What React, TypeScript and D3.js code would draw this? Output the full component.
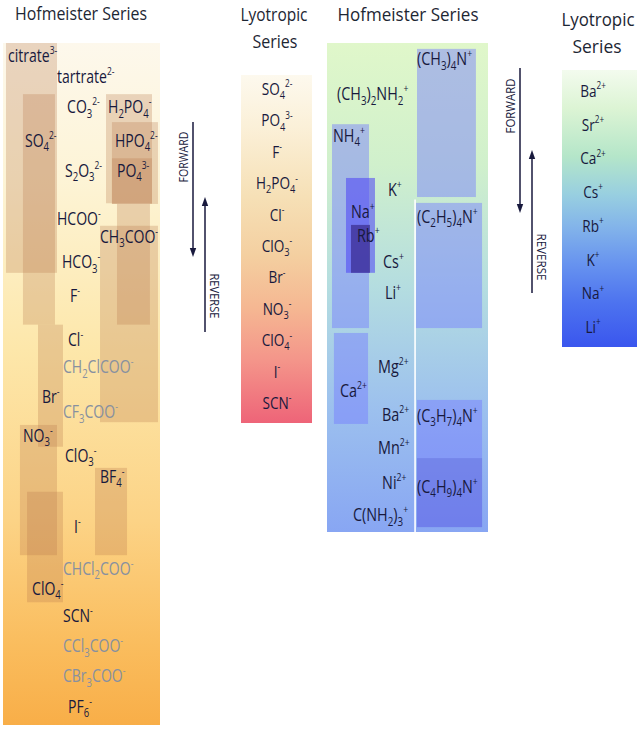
import React from "react";
import * as d3 from "d3";

// ---------- DATA ----------
// Hofmeister anion series: rank = position along the series (0 top .. 100 bottom), lane = horizontal lane (0..100)
const hofAnions = [
  { ion: "citrate^{3-}", rank: 2.8, lane: 3.2, kind: "main" },
  { ion: "tartrate^{2-}", rank: 5.9, lane: 34.4, kind: "main" },
  { ion: "CO_{3}^{2-}", rank: 10.3, lane: 40.8, kind: "main" },
  { ion: "H_{2}PO_{4}^{-}", rank: 10.3, lane: 66.9, kind: "main" },
  { ion: "SO_{4}^{2-}", rank: 15.2, lane: 14.0, kind: "main" },
  { ion: "HPO_{4}^{2-}", rank: 15.2, lane: 71.3, kind: "main" },
  { ion: "S_{2}O_{3}^{2-}", rank: 19.6, lane: 39.5, kind: "main" },
  { ion: "PO_{4}^{3-}", rank: 19.6, lane: 72.6, kind: "main" },
  { ion: "HCOO^{-}", rank: 26.7, lane: 34.4, kind: "main" },
  { ion: "CH_{3}COO^{-}", rank: 29.3, lane: 61.8, kind: "main" },
  { ion: "HCO_{3}^{-}", rank: 33.0, lane: 37.6, kind: "main" },
  { ion: "F^{-}", rank: 38.0, lane: 42.7, kind: "main" },
  { ion: "Cl^{-}", rank: 44.4, lane: 41.4, kind: "main" },
  { ion: "CH_{2}ClCOO^{-}", rank: 48.4, lane: 38.2, kind: "halo" },
  { ion: "Br^{-}", rank: 52.8, lane: 24.8, kind: "main" },
  { ion: "CF_{3}COO^{-}", rank: 55.0, lane: 38.2, kind: "halo" },
  { ion: "NO_{3}^{-}", rank: 58.5, lane: 12.7, kind: "main" },
  { ion: "ClO_{3}^{-}", rank: 61.4, lane: 39.5, kind: "main" },
  { ion: "BF_{4}^{-}", rank: 64.5, lane: 61.8, kind: "main" },
  { ion: "I^{-}", rank: 71.8, lane: 45.2, kind: "main" },
  { ion: "CHCl_{2}COO^{-}", rank: 78.0, lane: 38.2, kind: "halo" },
  { ion: "ClO_{4}^{-}", rank: 80.9, lane: 18.5, kind: "main" },
  { ion: "SCN^{-}", rank: 84.9, lane: 38.2, kind: "main" },
  { ion: "CCl_{3}COO^{-}", rank: 89.3, lane: 38.2, kind: "halo" },
  { ion: "CBr_{3}COO^{-}", rank: 93.7, lane: 38.2, kind: "halo" },
  { ion: "PF_{6}^{-}", rank: 98.2, lane: 41.4, kind: "main" },
];

// ranges of variable placement of anions (lane0, lane1, rank0, rank1)
const anionRanges = [
  { ion: "citrate", lane0: 1.9, lane1: 34.4, rank0: 0, rank1: 33.7 },
  { ion: "SO4", lane0: 12.7, lane1: 33.1, rank0: 7.5, rank1: 41.3 },
  { ion: "Br", lane0: 22.3, lane1: 38.2, rank0: 41.3, rank1: 59.2 },
  { ion: "NO3", lane0: 10.8, lane1: 34.4, rank0: 56.0, rank1: 75.1 },
  { ion: "ClO4", lane0: 15.3, lane1: 38.2, rank0: 65.8, rank1: 82.0 },
  { ion: "H2PO4", lane0: 65.6, lane1: 94.9, rank0: 7.5, rank1: 23.5 },
  { ion: "HPO4", lane0: 69.4, lane1: 98.7, rank0: 11.6, rank1: 23.6 },
  { ion: "PO4", lane0: 69.4, lane1: 94.9, rank0: 16.9, rank1: 23.6 },
  { ion: "PO4b", lane0: 72.6, lane1: 93.6, rank0: 23.6, rank1: 41.3 },
  { ion: "CH3COO", lane0: 61.8, lane1: 98.7, rank0: 26.8, rank1: 55.6 },
  { ion: "BF4", lane0: 58.6, lane1: 79.0, rank0: 62.3, rank1: 75.1 },
];

// Hofmeister cation series
const hofCations = [
  { ion: "(CH_{3})_{4}N^{+}", rank: 4.5, lane: 55.9 },
  { ion: "(CH_{3})_{2}NH_{2}^{+}", rank: 11.7, lane: 6.2 },
  { ion: "NH_{4}^{+}", rank: 20.2, lane: 3.7 },
  { ion: "K^{+}", rank: 31.3, lane: 37.9 },
  { ion: "Na^{+}", rank: 35.8, lane: 14.9 },
  { ion: "(C_{2}H_{5})_{4}N^{+}", rank: 36.8, lane: 55.9 },
  { ion: "Rb^{+}", rank: 40.7, lane: 18.6 },
  { ion: "Cs^{+}", rank: 46.0, lane: 34.8 },
  { ion: "Li^{+}", rank: 52.4, lane: 36.0 },
  { ion: "Mg^{2+}", rank: 67.5, lane: 31.7 },
  { ion: "Ca^{2+}", rank: 72.4, lane: 8.1 },
  { ion: "Ba^{2+}", rank: 77.3, lane: 34.2 },
  { ion: "(C_{3}H_{7})_{4}N^{+}", rank: 77.5, lane: 55.9 },
  { ion: "Mn^{2+}", rank: 84.0, lane: 31.7 },
  { ion: "Ni^{2+}", rank: 91.2, lane: 34.2 },
  { ion: "(C_{4}H_{9})_{4}N^{+}", rank: 92.0, lane: 55.9 },
  { ion: "C(NH_{2})_{3}^{+}", rank: 97.8, lane: 16.1 },
];

const cationRanges = [
  { ion: "NMe4", lane0: 55.9, lane1: 92.5, rank0: 1.2, rank1: 31.5, tone: "base" },
  { ion: "NEt4", lane0: 55.3, lane1: 96.3, rank0: 32.7, rank1: 58.3, tone: "base" },
  { ion: "NPr4", lane0: 55.9, lane1: 96.3, rank0: 73.0, rank1: 99.0, tone: "base" },
  { ion: "NBu4", lane0: 55.9, lane1: 96.3, rank0: 84.9, rank1: 99.0, tone: "deep" },
  { ion: "NH4", lane0: 3.1, lane1: 26.1, rank0: 16.6, rank1: 58.3, tone: "base" },
  { ion: "Na", lane0: 11.8, lane1: 29.8, rank0: 27.6, rank1: 47.0, tone: "vivid" },
  { ion: "Rb", lane0: 14.9, lane1: 26.7, rank0: 37.2, rank1: 47.0, tone: "dark" },
  { ion: "Ca", lane0: 4.3, lane1: 25.5, rank0: 59.3, rank1: 77.9, tone: "base" },
];

// Lyotropic series
const lyoAnions = ["SO_{4}^{2-}", "PO_{4}^{3-}", "F^{-}", "H_{2}PO_{4}^{-}", "Cl^{-}", "ClO_{3}^{-}", "Br^{-}", "NO_{3}^{-}", "ClO_{4}^{-}", "I^{-}", "SCN^{-}"];
const lyoCations = ["Ba^{2+}", "Sr^{2+}", "Ca^{2+}", "Cs^{+}", "Rb^{+}", "K^{+}", "Na^{+}", "Li^{+}"];

const titles = ["Hofmeister Series", "Lyotropic", "Series"];
const directions = ["FORWARD", "REVERSE"];

// ---------- RENDER ----------
const FONT = "'Open Sans', 'Noto Sans', sans-serif";
const INK = "#18193d";
const HALO = "#8790a0";
const TITLE = "#1d2633";

function Chem({ text, x, y, size, fill, anchor = "start", sx = 0.8 }) {
  const parts = text.split(/(_\{[^}]*\}|\^\{[^}]*\})/).filter(Boolean);
  let offset = 0;
  const spans = parts.map((p, i) => {
    let content = p;
    let fs = size;
    let target = 0;
    if (p.startsWith("_{")) {
      content = p.slice(2, -1);
      fs = size * 0.68;
      target = size * 0.25;
    } else if (p.startsWith("^{")) {
      content = p.slice(2, -1);
      fs = size * 0.6;
      target = -size * 0.45;
    }
    const dy = target - offset;
    offset = target;
    return (
      <tspan key={i} fontSize={fs} dy={dy}>
        {content}
      </tspan>
    );
  });
  return (
    <text
      transform={`translate(${x},${y}) scale(${sx},1)`}
      textAnchor={anchor}
      fill={fill}
      fontSize={size}
      fontWeight={500}
      fontFamily={FONT}
    >
      {spans}
    </text>
  );
}

function Arrow({ x, from, to }) {
  const dir = to > from ? 1 : -1;
  const headLen = 9;
  const headW = 3.2;
  return (
    <g>
      <line x1={x} x2={x} y1={from} y2={to - dir * headLen} stroke={INK} strokeWidth={1.5} />
      <path d={`M${x - headW},${to - dir * headLen} L${x + headW},${to - dir * headLen} L${x},${to} Z`} fill={INK} />
    </g>
  );
}

function VText({ text, x, y, rot, len }) {
  return (
    <text
      transform={`translate(${x},${y}) rotate(${rot})`}
      textAnchor="middle"
      fontSize={13.5}
      fontFamily={FONT}
      fill={INK}
      textLength={len}
      lengthAdjust="spacingAndGlyphs"
    >
      {text}
    </text>
  );
}

export default function App() {
  const xL = d3.scaleLinear().domain([0, 100]).range([3, 160]);
  const yL = d3.scaleLinear().domain([0, 100]).range([43, 725]);
  const xR = d3.scaleLinear().domain([0, 100]).range([327, 488]);
  const yR = d3.scaleLinear().domain([0, 100]).range([43, 532]);
  const yLyoA = d3.scalePoint().domain(lyoAnions).range([95, 409]);
  const yLyoC = d3.scalePoint().domain(lyoCations).range([97, 333]);

  const cationTone = {
    base: { fill: "#7479ff", op: 0.46 },
    vivid: { fill: "#4b3ff5", op: 0.55 },
    dark: { fill: "#2a1670", op: 0.55 },
    deep: { fill: "#3a3cc0", op: 0.22 },
  };

  return (
    <svg width={640} height={730} style={{ position: "absolute", left: 0, top: 0, background: "#fff" }}>
      <defs>
        <linearGradient id="gAnion" x1="0" y1="0" x2="0" y2="1">
          <stop offset="0" stopColor="#fdf8ec" />
          <stop offset="0.2" stopColor="#fdf4d6" />
          <stop offset="0.45" stopColor="#fde7aa" />
          <stop offset="0.7" stopColor="#fcd386" />
          <stop offset="0.88" stopColor="#fabd5e" />
          <stop offset="1" stopColor="#f8ae48" />
        </linearGradient>
        <linearGradient id="gCation" x1="0" y1="0" x2="0" y2="1">
          <stop offset="0" stopColor="#e0f7ca" />
          <stop offset="0.25" stopColor="#d0f0cc" />
          <stop offset="0.5" stopColor="#b4dde0" />
          <stop offset="0.75" stopColor="#9cc0ee" />
          <stop offset="1" stopColor="#88a6f3" />
        </linearGradient>
        <linearGradient id="gLyoA" x1="0" y1="0" x2="0" y2="1">
          <stop offset="0" stopColor="#fdf9ee" />
          <stop offset="0.15" stopColor="#fbf0d8" />
          <stop offset="0.35" stopColor="#f6e0b6" />
          <stop offset="0.52" stopColor="#f4cfa0" />
          <stop offset="0.67" stopColor="#f5b792" />
          <stop offset="0.82" stopColor="#f4958a" />
          <stop offset="1" stopColor="#ee6478" />
        </linearGradient>
        <linearGradient id="gLyoC" x1="0" y1="0" x2="0" y2="1">
          <stop offset="0" stopColor="#f3fbee" />
          <stop offset="0.14" stopColor="#dcf4d4" />
          <stop offset="0.31" stopColor="#b5e6c9" />
          <stop offset="0.45" stopColor="#98cfe0" />
          <stop offset="0.57" stopColor="#82b3ea" />
          <stop offset="0.7" stopColor="#6793ef" />
          <stop offset="0.84" stopColor="#4d73ef" />
          <stop offset="1" stopColor="#3a56ee" />
        </linearGradient>
      </defs>

      {/* Left: Hofmeister anions */}
      <text x={81} y={20} textAnchor="middle" fontSize={18} fontFamily={FONT} fill={TITLE} textLength={132} lengthAdjust="spacingAndGlyphs">
        {titles[0]}
      </text>
      <rect x={xL(0)} y={yL(0)} width={xL(100) - xL(0)} height={yL(100) - yL(0)} fill="url(#gAnion)" />
      {anionRanges.map((r) => (
        <rect
          key={r.ion}
          x={xL(r.lane0)}
          y={yL(r.rank0)}
          width={xL(r.lane1) - xL(r.lane0)}
          height={yL(r.rank1) - yL(r.rank0)}
          fill="#b8764a"
          fillOpacity={0.28}
        />
      ))}
      {hofAnions.map((a) => (
        <Chem key={a.ion} text={a.ion} x={xL(a.lane)} y={yL(a.rank)} size={18} fill={a.kind === "halo" ? HALO : INK} sx={0.78} />
      ))}

      {/* Left lyotropic anions */}
      <text x={274} y={21} textAnchor="middle" fontSize={18} fontFamily={FONT} fill={TITLE} textLength={67} lengthAdjust="spacingAndGlyphs">
        {titles[1]}
      </text>
      <text x={275} y={48} textAnchor="middle" fontSize={18} fontFamily={FONT} fill={TITLE} textLength={45} lengthAdjust="spacingAndGlyphs">
        {titles[2]}
      </text>
      <rect x={241} y={75} width={71} height={348} fill="url(#gLyoA)" />
      {lyoAnions.map((a) => (
        <Chem key={a} text={a} x={277} y={yLyoA(a)} size={17} fill={INK} anchor="middle" sx={0.8} />
      ))}

      {/* arrows left */}
      <Arrow x={193} from={122} to={257} />
      <Arrow x={205} from={332} to={197} />
      <VText text={directions[0]} x={188} y={157} rot={-90} len={51} />
      <VText text={directions[1]} x={209.5} y={296} rot={90} len={45} />

      {/* Right: Hofmeister cations */}
      <text x={408} y={21} textAnchor="middle" fontSize={18} fontFamily={FONT} fill={TITLE} textLength={141} lengthAdjust="spacingAndGlyphs">
        {titles[0]}
      </text>
      <rect x={xR(0)} y={yR(0)} width={xR(100) - xR(0)} height={yR(100) - yR(0)} fill="url(#gCation)" />
      <line x1={xR(54.7)} x2={xR(54.7)} y1={yR(32)} y2={yR(100)} stroke="#ffffff" strokeWidth={1.6} />
      {cationRanges.map((r) => (
        <rect
          key={r.ion}
          x={xR(r.lane0)}
          y={yR(r.rank0)}
          width={xR(r.lane1) - xR(r.lane0)}
          height={yR(r.rank1) - yR(r.rank0)}
          fill={cationTone[r.tone].fill}
          fillOpacity={cationTone[r.tone].op}
        />
      ))}
      {hofCations.map((c) => (
        <Chem key={c.ion} text={c.ion} x={xR(c.lane)} y={yR(c.rank)} size={18} fill={INK} sx={0.8} />
      ))}

      {/* Right lyotropic cations */}
      <text x={598} y={26} textAnchor="middle" fontSize={18} fontFamily={FONT} fill={TITLE} textLength={73} lengthAdjust="spacingAndGlyphs">
        {titles[1]}
      </text>
      <text x={597} y={53} textAnchor="middle" fontSize={18} fontFamily={FONT} fill={TITLE} textLength={49} lengthAdjust="spacingAndGlyphs">
        {titles[2]}
      </text>
      <rect x={562} y={70} width={75} height={277} fill="url(#gLyoC)" />
      {lyoCations.map((c) => (
        <Chem key={c} text={c} x={593} y={yLyoC(c)} size={17} fill={INK} anchor="middle" sx={0.8} />
      ))}

      {/* arrows right */}
      <Arrow x={520} from={68} to={213} />
      <Arrow x={532} from={293} to={150} />
      <VText text={directions[0]} x={515} y={106} rot={-90} len={55} />
      <VText text={directions[1]} x={537} y={257} rot={90} len={47} />
    </svg>
  );
}
